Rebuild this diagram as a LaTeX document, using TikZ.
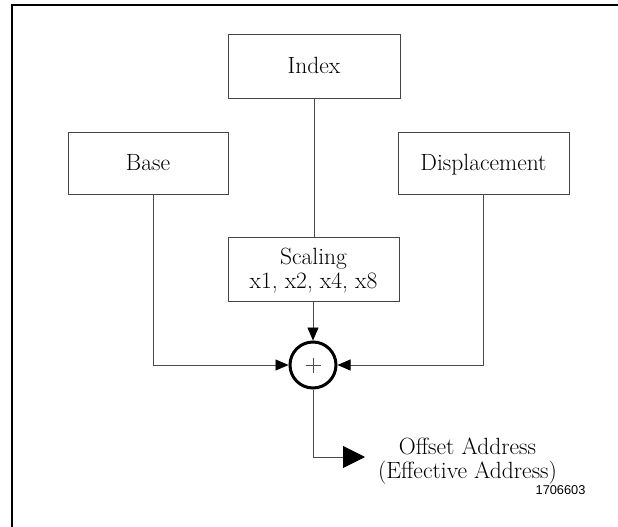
\documentclass[tikz,border=0pt]{standalone}
\usepackage{fontspec}
\newfontfamily\numfont{Liberation Sans}
\usetikzlibrary{arrows.meta}
\definecolor{boxline}{HTML}{444444}
\definecolor{conline}{HTML}{4A4A4A}
\begin{document}
\begin{tikzpicture}[x=1pt,y=-1pt,
  font=\fontsize{23.5}{24}\selectfont,
  blk/.style={draw=boxline,line width=0.9pt,rectangle,inner sep=0pt,align=center,text depth=2pt},
  conn/.style={draw=conline,line width=0.9pt},
  tipS/.style={-{Triangle[length=13pt,width=11pt,color=black]}},
  tipL/.style={-{Triangle[length=22pt,width=22pt,color=black]}}]
\useasboundingbox (0,0) rectangle (618,527);
% frame (top and left)
\draw[line width=2.5pt] (618,5) -- (12,5) -- (12,527);
% blocks
\node[blk,minimum width=172pt,minimum height=64pt] (index) at (314,66) {Index};
\node[blk,minimum width=160pt,minimum height=62pt] (base) at (148,163) {Base};
\node[blk,minimum width=171pt,minimum height=62pt] (disp) at (483.5,163) {Displacement};
\node[blk,minimum width=171pt,minimum height=64pt] (scal) at (313.5,269) {Scaling\\x1, x2, x4, x8};
\node[circle,draw=black,line width=3pt,minimum size=46pt,inner sep=0pt] (plus) at (313,365) {};
\draw[conline,line width=0.8pt] ([xshift=-7.5pt]plus.center) -- ([xshift=7.5pt]plus.center)
  ([yshift=-7.5pt]plus.center) -- ([yshift=7.5pt]plus.center);
% connectors
\draw[conn] (index.south) -- (index.south |- scal.north);
\draw[conn,tipS] (plus.north |- scal.south) -- (plus.north);
\draw[conn,tipS] ([xshift=5pt]base.south) |- (plus.west);
\draw[conn,tipS] (disp.south) |- (plus.east);
\coordinate (out) at (365,457);
\draw[conn,tipL] (plus.south) |- (out);
% labels
\node[align=center] (lbl) at (467.5,461) {Offset Address\\(Effective Address)};
\node[font=\numfont\fontsize{12.8}{14}\selectfont,anchor=base east] (num) at (589,494) {1706603};
\end{tikzpicture}
\end{document}
